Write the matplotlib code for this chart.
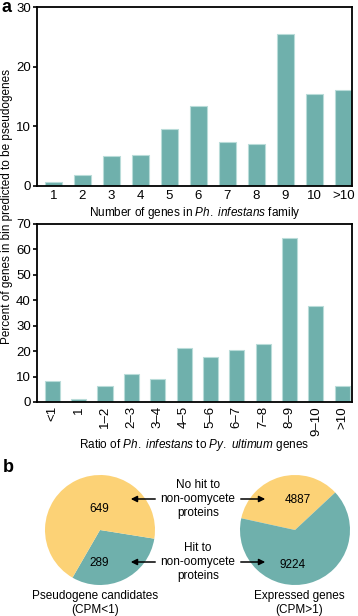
import numpy as np
import matplotlib
matplotlib.use("Agg")
import matplotlib.pyplot as plt

plt.rcParams['font.family'] = ['Liberation Sans', 'DejaVu Sans']
plt.rcParams['font.size'] = 8.5
plt.rcParams['mathtext.fontset'] = 'custom'
plt.rcParams['mathtext.rm'] = 'Liberation Sans'
plt.rcParams['mathtext.it'] = 'Liberation Sans:italic'

# panel a, top: family size bins
fam_labels = ['1', '2', '3', '4', '5', '6', '7', '8', '9', '10', '>10']
fam_pct = [0.7, 1.8, 5.0, 5.2, 9.5, 13.4, 7.4, 7.0, 25.5, 15.4, 16.1]

# panel a, bottom: ratio bins
ratio_labels = ['<1', '1', '1\u20132', '2\u20133', '3\u20134', '4\u20135', '5\u20136',
                '6\u20137', '7\u20138', '8\u20139', '9\u201310', '>10']
ratio_pct = [8.3, 1.0, 6.4, 11.0, 8.9, 21.2, 17.8, 20.5, 22.7, 64.6, 37.6, 6.4]

# panel b pies
pseudo_counts = [289, 649]     # hit, no hit
expressed_counts = [4887, 9224]  # no hit, hit

teal = '#6fb0ac'
yellow = '#fcd276'
W, H = 358, 616

fig = plt.figure(figsize=(W / 100, H / 100), dpi=100)

def px_axes(l, t, r, b):
    return fig.add_axes([l / W, 1 - b / H, (r - l) / W, (b - t) / H])

def style(ax):
    for s in ax.spines.values():
        s.set_linewidth(1.3)
    ax.tick_params(axis='y', direction='out', length=3, width=1.2, pad=1.5, labelsize=9.5)
    ax.tick_params(axis='x', length=0, pad=3, labelsize=9.5)

# top bars
ax1 = px_axes(37, 7, 352, 186)
x1 = np.arange(len(fam_labels))
ax1.bar(x1, fam_pct, width=0.58, color=teal, edgecolor='#b9dcd9', linewidth=0.8)
ax1.set_xlim(-0.56, 10.3)
ax1.set_ylim(0, 30)
ax1.set_yticks([0, 10, 20, 30])
ax1.set_xticks(x1)
ax1.set_xticklabels(fam_labels)
ax1.set_xlabel('Number of genes in $\\it{Ph.}$ $\\it{infestans}$ family', labelpad=2)
style(ax1)

# bottom bars
ax2 = px_axes(37, 224, 352, 402)
x2 = np.arange(len(ratio_labels))
ax2.bar(x2, ratio_pct, width=0.57, color=teal, edgecolor='#b9dcd9', linewidth=0.8)
ax2.set_xlim(-0.58, 11.37)
ax2.set_ylim(0, 70)
ax2.set_yticks(range(0, 71, 10))
ax2.set_xticks(x2)
ax2.set_xticklabels(ratio_labels, rotation=90)
ax2.set_xlabel('Ratio of $\\it{Ph.}$ $\\it{infestans}$ to $\\it{Py.}$ $\\it{ultimum}$ genes',
               labelpad=1)
style(ax2)

fig.text(7.5 / W, 1 - 207 / H, 'Percent of genes in bin predicted to be pseudogenes',
         rotation=90, ha='center', va='center')

fig.text(2 / W, 1 - 7 / H, 'a', fontsize=13, fontweight='bold', ha='left', va='center')
fig.text(3 / W, 1 - 467 / H, 'b', fontsize=13, fontweight='bold', ha='left', va='center')

# pies
axp1 = px_axes(45, 475, 155, 585)
axp1.pie(pseudo_counts, colors=[teal, yellow], startangle=-120, radius=1,
         wedgeprops=dict(linewidth=0))
axp1.set_xlim(-1, 1)
axp1.set_ylim(-1, 1)
axp2 = px_axes(240, 475, 350, 585)
axp2.pie(expressed_counts, colors=[yellow, teal], startangle=43, radius=1,
         wedgeprops=dict(linewidth=0))
axp2.set_xlim(-1, 1)
axp2.set_ylim(-1, 1)

def ftext(x, y, s, **kw):
    fig.text(x / W, 1 - y / H, s, ha='center', va='center', **kw)

ftext(99, 509, str(pseudo_counts[1]))
ftext(99, 563, str(pseudo_counts[0]))
ftext(298, 500, str(expressed_counts[0]))
ftext(293, 565, str(expressed_counts[1]))

ftext(198, 499, 'No hit to\nnon-oomycete\nproteins', linespacing=1.25)
ftext(198, 562, 'Hit to\nnon-oomycete\nproteins', linespacing=1.25)

def arrow(x0, x1, y):
    fig.add_artist(matplotlib.patches.FancyArrowPatch(
        (x0 / W, 1 - y / H), (x1 / W, 1 - y / H), transform=fig.transFigure,
        arrowstyle='-|>', mutation_scale=9, lw=1.1, color='black'))

for y in (499, 562):
    arrow(158, 128, y)
    arrow(238, 268, y)

ftext(95, 603, 'Pseudogene candidates\n(CPM<1)', linespacing=1.15)
ftext(299, 603, 'Expressed genes\n(CPM>1)', linespacing=1.15)

fig.savefig('out.png', dpi=100)
